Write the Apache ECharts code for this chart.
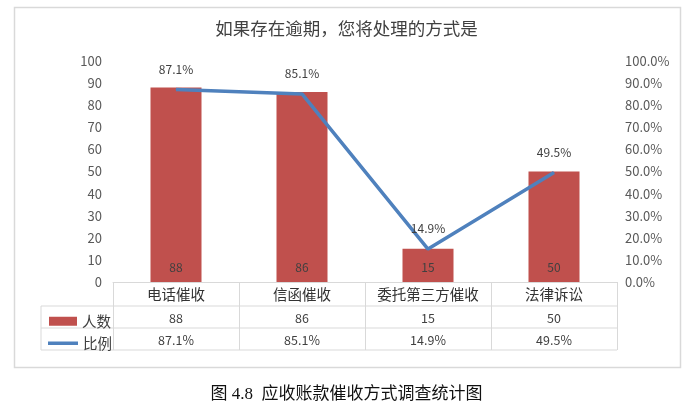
<!DOCTYPE html>
<html><head><meta charset="utf-8">
<script src="https://cdn.jsdelivr.net/npm/echarts@6/dist/echarts.min.js"></script>
<style>html,body{margin:0;padding:0;background:#fff}#c{width:693px;height:405px}</style>
</head><body><div id="c"></div>
<script>
const categories = ['电话催收', '信函催收', '委托第三方催收', '法律诉讼'];
const peopleCount = [88, 86, 15, 50];
const ratio = [0.871, 0.851, 0.149, 0.495];
const leftTicks = [0, 100, 10];
const chartTitle = '如果存在逾期，您将处理的方式是';
const caption = '图 4.8  应收账款催收方式调查统计图';
const seriesNames = ['人数', '比例'];

const pct = v => (v * 100).toFixed(1) + '%';
const FONT = "'Noto Sans CJK SC', 'DejaVu Sans', sans-serif";
const GRID = '#d9d9d9';
const TXT = '#404040';
const chart = echarts.init(document.getElementById('c'));
const tableAxis = (offset, fmt, size) => ({
  type: 'category', data: categories, position: 'bottom', offset: offset,
  axisLine: { show: false }, axisTick: { show: false },
  axisLabel: { interval: 0, margin: 6, fontSize: size, color: TXT, fontFamily: FONT, formatter: fmt }
});
const line = (x1, y1, x2, y2) => ({ type: 'line', shape: { x1, y1, x2, y2 }, style: { stroke: GRID, lineWidth: 1 }, silent: true });
chart.setOption({
  animation: false,
  textStyle: { fontFamily: FONT },
  title: [
    { text: chartTitle, left: 'center', top: 15, textStyle: { fontSize: 17.5, fontWeight: 'normal', color: TXT, fontFamily: FONT } },
    { text: caption, left: 'center', top: 381, textStyle: { fontSize: 17, fontWeight: 'normal', color: '#111', fontFamily: "'Liberation Serif', 'Noto Sans CJK SC', serif" } }
  ],
  legend: [
    { data: [{ name: seriesNames[0], icon: 'rect' }], left: 44, top: 309, itemWidth: 28, itemHeight: 9, textStyle: { fontSize: 14.5, color: TXT, fontFamily: FONT } },
    { data: [{ name: seriesNames[1], icon: 'path://M0,0 L30,0 L30,3.5 L0,3.5 Z' }], left: 43, top: 331, itemWidth: 30, itemHeight: 3.5, itemStyle: { color: '#4F81BD' }, textStyle: { fontSize: 14.5, color: TXT, fontFamily: FONT } }
  ],
  grid: { left: 113, right: 76, top: 61, bottom: 123 },
  xAxis: [
    {
      type: 'category', data: categories, position: 'bottom',
      axisLine: { show: true, lineStyle: { color: GRID } },
      axisTick: { show: true, length: 68, interval: 0, lineStyle: { color: GRID } },
      axisLabel: { interval: 0, margin: 5, fontSize: 14.5, color: '#333', fontFamily: FONT }
    },
    tableAxis(24, (v, i) => String(peopleCount[i]), 12.5),
    tableAxis(46, (v, i) => pct(ratio[i]), 12.5)
  ],
  yAxis: [
    {
      type: 'value', min: leftTicks[0], max: leftTicks[1], interval: leftTicks[2],
      axisLine: { show: false }, axisTick: { show: false }, splitLine: { show: false },
      axisLabel: { margin: 11, fontSize: 13, color: '#595959', fontFamily: FONT }
    },
    {
      type: 'value', min: 0, max: 1, interval: 0.1, position: 'right',
      axisLine: { show: false }, axisTick: { show: false }, splitLine: { show: false },
      axisLabel: { margin: 8, fontSize: 13, color: '#595959', fontFamily: FONT, formatter: v => pct(v) }
    }
  ],
  series: [
    {
      name: seriesNames[0], type: 'bar', data: peopleCount, barWidth: 51,
      itemStyle: { color: '#C0504D' },
      label: { show: true, position: 'insideBottom', distance: 9, color: TXT, fontSize: 12, fontFamily: FONT }
    },
    {
      name: seriesNames[1], type: 'line', yAxisIndex: 1, data: ratio,
      symbol: 'circle', symbolSize: 1, showSymbol: true,
      lineStyle: { color: '#4F81BD', width: 3.5 }, itemStyle: { color: '#4F81BD' },
      label: { show: true, position: 'top', distance: 14, color: TXT, fontSize: 12, fontFamily: FONT, formatter: p => pct(p.value) }
    }
  ],
  graphic: [
    { type: 'rect', shape: { x: 14.5, y: 7.5, width: 666, height: 360 }, style: { fill: null, stroke: GRID, lineWidth: 1.5 }, silent: true, z: -1 },
    line(41, 306, 617, 306),
    line(41, 328, 617, 328),
    line(41, 350, 617, 350),
    line(41, 306, 41, 350)
  ]
});
</script></body></html>
